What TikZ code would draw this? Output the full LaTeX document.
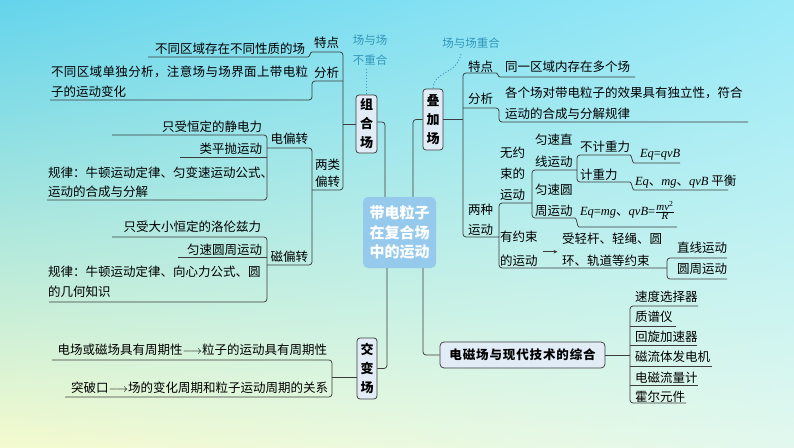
\documentclass[tikz,border=0pt]{standalone}
\usepackage{fontspec}
\setmainfont{Liberation Serif}
\newfontfamily\cjk{Noto Sans CJK SC}
\newfontfamily\cjksp{Noto Sans CJK SC}[LetterSpace=7]
\newfontfamily\lat{Liberation Serif}
\newcommand\ltit[1]{{\lat\itshape #1}}
\newcommand\eqsign{{\lat =}}
\usetikzlibrary{arrows.meta,shadings}
\definecolor{lc}{RGB}{60,60,60}
\definecolor{boxc}{RGB}{226,236,246}
\definecolor{ctrc}{RGB}{150,202,236}
\definecolor{hand}{RGB}{50,150,185}
\definecolor{bgUL}{RGB}{100,212,236}
\definecolor{bgUR}{RGB}{155,234,248}
\definecolor{bgLL}{RGB}{244,250,206}
\definecolor{bgLR}{RGB}{226,248,238}
\begin{document}
\begin{tikzpicture}[x=1pt,y=-1pt,
  ln/.style={draw=lc,line width=0.75pt,rounded corners=3pt},
  tx/.style={inner sep=0pt,outer sep=0pt,font=\cjk\fontsize{12.5}{20}\selectfont,text=black},
  bx/.style={draw=lc,fill=boxc,line width=0.75pt,rounded corners=3pt,inner sep=0pt,align=center,font=\cjk\bfseries\fontsize{13}{19}\selectfont},
  ctrbox/.style={fill=ctrc,rounded corners=5pt,inner sep=0pt,minimum width=73pt,minimum height=71pt,align=center,text=white,font=\cjk\bfseries\fontsize{15}{19.5}\selectfont},
  hw/.style={inner sep=0pt,text=hand,font=\cjk\fontsize{11.5}{13}\selectfont},
  hwl/.style={draw=hand,line width=0.8pt,dash pattern=on 1.2pt off 1.8pt},
  arr/.style={draw=lc,line width=0.6pt,-{Stealth[length=4pt,width=3.5pt]}}
]
\shade[upper left=bgUL,upper right=bgUR,lower left=bgLL,lower right=bgLR] (0,0) rectangle (794,447);
\useasboundingbox (0,0) rectangle (794,447);

% main boxes
\node[ctrbox] (ctr) at (399.5,232.5) {带电粒子\\在复合场\\中的运动};
\node[bx,minimum width=21pt,minimum height=58pt] (zuhe) at (366.5,124) {组\\合\\场};
\node[bx,minimum width=20pt,minimum height=61pt] (diejia) at (433,119.5) {叠\\加\\场};
\node[bx,minimum width=20pt,minimum height=61pt] (jiaobian) at (367,368.5) {交\\变\\场};
\node[draw=lc,fill=boxc,line width=0.75pt,rounded corners=4pt,inner sep=0pt,minimum width=165pt,minimum height=26pt,font=\cjksp\bfseries\fontsize{12.5}{14}\selectfont] (dc) at (522.5,355) {电磁场与现代技术的综合};

% spines
\draw[ln] ([yshift=2pt]zuhe.east) -| ([xshift=-14.5pt]ctr.north);
\draw[ln] (diejia.west) -| ([xshift=13.5pt]ctr.north);
\draw[ln] (jiaobian.east) -| ([xshift=-12.5pt]ctr.south);
\draw[ln] (dc.west) -| ([xshift=23.5pt]ctr.south);

% handwriting
\node[hw] (hw1) at (370,40) {场与场};
\node[hw] (hw2) at (370,60) {不重合};
\node[hw] (hw3) at (471,43) {场与场重合};
\draw[hwl] (366,69) -- (zuhe.north -| 366,0);
\draw[hwl] (461,54) .. controls (456,76) and (434,70) .. (diejia.north);

% ---------- left: 组合场
\node[tx,anchor=south east] (lTd) at (339,48) {特点};
\node[tx,anchor=south east] (lTd1) at (305,55) {不同区域存在不同性质的场};
\node[tx,anchor=south east] (lFx) at (339,79) {分析};
\node[tx,anchor=south west,align=left] (lFx1) at (51,98) {{\addfontfeatures{LetterSpace=3}不同区域单独分析，注意场与场界面上带电粒}\\子的运动变化};
\node[tx,anchor=south east,align=left,font=\cjk\fontsize{12.5}{17}\selectfont] (lLl) at (340,188) {两类\\偏转};
\node[tx,anchor=south east] (lDp) at (308,145) {电偏转};
\node[tx,anchor=south east] (lDp1) at (262,133) {只受恒定的静电力};
\node[tx,anchor=south east] (lDp2) at (262,155) {类平抛运动};
\node[tx,anchor=south west,align=left,font=\cjk\fontsize{12.5}{19}\selectfont] (lDp3) at (48,198) {规律：牛顿运动定律、匀变速运动公式、\\运动的合成与分解};
\node[tx,anchor=south east] (lCp) at (308,263) {磁偏转};
\node[tx,anchor=south east] (lCp1) at (261,233) {只受大小恒定的洛伦兹力};
\node[tx,anchor=south east] (lCp2) at (262,256) {匀速圆周运动};
\node[tx,anchor=south west,align=left] (lCp3) at (48,298) {规律：牛顿运动定律、向心力公式、圆\\的几何知识};

\draw[ln] (zuhe.west) -- (343,124);
\draw[ln] (148,57) -- (305,57) .. controls (310,57) and (310,52) .. (315,52) -- (343,52) -- (343,190) -- (312,190);
\draw[ln] (343,81) -- (312,81) -- (312,100) -- (50,100);
\draw[ln] (267,148) -- (312,148) -- (312,265) -- (267,265);
\draw[ln] (112,135) -- (267,135) -- (267,200) -- (47,200);
\draw[ln] (180,157) -- (267,157);
\draw[ln] (112,237) -- (267,237) -- (267,302) -- (49,302);
\draw[ln] (178,257) -- (267,257);

% ---------- left: 交变场
\node[tx,anchor=south east] (lJb1) at (327,356) {电场或磁场具有周期性$\longrightarrow$粒子的运动具有周期性};
\node[tx,anchor=south east] (lJb2) at (328,394) {突破口$\longrightarrow$场的变化周期和粒子运动周期的关系};
\draw[ln] ([yshift=-8.5pt]jiaobian.west) -- (332,377);
\draw[ln] (52,360) -- (332,360) -- (332,397) -- (65,397);

% ---------- right: 叠加场
\node[tx,anchor=south west] (rTd) at (468,72) {特点};
\node[tx,anchor=south west] (rTd1) at (505,73) {同一区域内存在多个场};
\node[tx,anchor=south west] (rFx) at (468,105) {分析};
\node[tx,anchor=south west,align=left,font=\cjk\fontsize{12.5}{21}\selectfont] (rFx1) at (505,120) {各个场对带电粒子的效果具有独立性，符合\\运动的合成与分解规律};
\node[tx,anchor=south west,align=left] (rLz) at (468,236) {两种\\运动};
\node[tx,anchor=south west,align=left,font=\cjk\fontsize{12.5}{21}\selectfont] (rWys) at (500,201) {无约\\束的\\运动};
\node[tx,anchor=south west,align=left,font=\cjk\fontsize{12.5}{22}\selectfont] (rZx) at (535,168) {匀速直\\线运动};
\node[tx,anchor=south west] (rBj) at (580,153) {不计重力};
\node[tx,anchor=base west] (rBj1) at (640,157.5) {\ltit{Eq}\eqsign\ltit{qvB}};
\node[tx,anchor=south west] (rJz) at (580,181) {计重力};
\node[tx,anchor=base west] (rJz1) at (635,185) {\ltit{Eq}、\ltit{mg}、\ltit{qvB} 平衡};
\node[tx,anchor=south west,align=left,font=\cjk\fontsize{12.5}{21}\selectfont] (rYz) at (535,216.5) {匀速圆\\周运动};
\node[tx,anchor=base west] (rYz1) at (580,215) {\ltit{Eq}\eqsign\ltit{mg}、\ltit{qvB}\eqsign$\frac{\hbox{\fontsize{11}{11}\selectfont\ltit{mv}\textsuperscript{\lat 2}}}{\hbox{\fontsize{11}{11}\selectfont\ltit{R}}}$};
\node[tx,anchor=south west,align=left,font=\cjk\fontsize{12.5}{24}\selectfont] (rYys) at (500,266.5) {有约束\\的运动};
\node[tx,anchor=south west,align=left,font=\cjk\fontsize{12.5}{22}\selectfont] (rYys1) at (562,267) {受轻杆、轻绳、圆\\环、轨道等约束};
\node[tx,anchor=south west] (rZxy) at (677,254) {直线运动};
\node[tx,anchor=south west] (rYzy) at (677,275) {圆周运动};

\draw[ln] (diejia.east) -- (463,119.5);
\draw[ln] (635,77) -- (503,77) .. controls (498,77) and (498,73) .. (493,73) -- (463,73) -- (463,237) -- (499,237);
\draw[ln] (463,108) -- (499,108) -- (499,122) -- (748,122);
\draw[ln] (532,203) -- (499,203) -- (499,268) -- (667,268);
\draw[ln] (577,170) -- (532,170) -- (532,218) -- (572,218) .. controls (577,218) and (577,227) .. (582,227) -- (677,227);
\draw[ln] (680,163) -- (637,163) .. controls (632,163) and (632,155) .. (627,155) -- (577,155) -- (577,182) -- (627,182) .. controls (632,182) and (632,190) .. (637,190) -- (728,190);
\draw[ln] (727,258) -- (667,258) -- (667,279) -- (727,279);
\draw[arr] ([xshift=5pt,yshift=-3pt]rYys.east) -- ++(15,0);

% ---------- right: 电磁场与现代技术的综合
\node[tx,anchor=south west] (d1) at (635,303) {速度选择器};
\node[tx,anchor=south west] (d2) at (635,323) {质谱仪};
\node[tx,anchor=south west] (d3) at (635,343) {回旋加速器};
\node[tx,anchor=south west] (d4) at (635,363) {磁流体发电机};
\node[tx,anchor=south west] (d5) at (635,383) {电磁流量计};
\node[tx,anchor=south west] (d6) at (635,402) {霍尔元件};
\draw[ln] (dc.east) -- (630,355);
\draw[ln] (698,306) -- (630,306) -- (630,403) -- (686,403);
\draw[ln] (630,326) -- (676,326);
\draw[ln] (630,345) -- (697,345);
\draw[ln] (630,366) -- (712,366);
\draw[ln] (630,385) -- (698,385);
\end{tikzpicture}
\end{document}
